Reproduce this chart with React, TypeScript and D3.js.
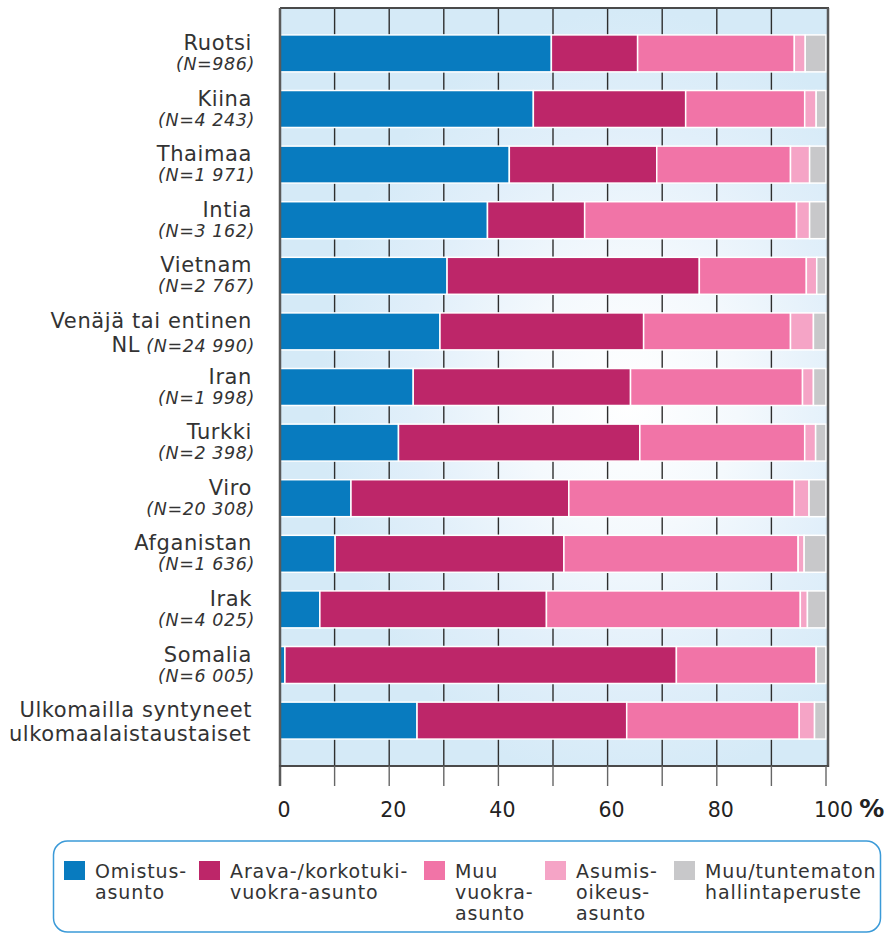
import React from 'react';
import * as d3 from 'd3';

// maat ja otoskoot
const countries = ['Ruotsi', 'Kiina', 'Thaimaa', 'Intia', 'Vietnam', 'Venäjä', 'Iran', 'Turkki', 'Viro', 'Afganistan', 'Irak', 'Somalia', 'Ulkomailla'];
const nameLines = [
  ['Ruotsi'], ['Kiina'], ['Thaimaa'], ['Intia'], ['Vietnam'], ['Venäjä tai entinen', 'NL'], ['Iran'],
  ['Turkki'], ['Viro'], ['Afganistan'], ['Irak'], ['Somalia'], ['Ulkomailla syntyneet', 'ulkomaalaistaustaiset'],
];
const nLabels = ['(N=986)', '(N=4 243)', '(N=1 971)', '(N=3 162)', '(N=2 767)', '(N=24 990)', '(N=1 998)',
  '(N=2 398)', '(N=20 308)', '(N=1 636)', '(N=4 025)', '(N=6 005)', ''];

// osuudet, %
const omistus = [49.7, 46.4, 42.0, 38.0, 30.6, 29.3, 24.4, 21.7, 13.0, 10.1, 7.3, 0.9, 25.1];
const arava = [15.8, 27.9, 27.0, 17.8, 46.2, 37.3, 39.8, 44.2, 39.9, 41.9, 41.5, 71.7, 38.4];
const muuVuokra = [28.7, 21.8, 24.5, 38.8, 19.6, 26.9, 31.5, 30.2, 41.3, 42.9, 46.5, 25.6, 31.6];
const asumisoikeus = [2.0, 2.1, 3.5, 2.4, 1.9, 4.2, 2.0, 2.0, 2.7, 1.1, 1.3, 0.0, 2.8];
const muuTuntematon = [3.8, 1.8, 3.0, 3.0, 1.7, 2.3, 2.3, 1.9, 3.1, 4.0, 3.4, 1.8, 2.1];

const keys = ['omistus', 'arava', 'muuVuokra', 'asumisoikeus', 'muu'];
const colors = ['#087bbf', '#bd2669', '#f174a7', '#f5a4c6', '#c8c8ca'];
const legendLines = [
  ['Omistus-', 'asunto'],
  ['Arava-/korkotuki-', 'vuokra-asunto'],
  ['Muu', 'vuokra-', 'asunto'],
  ['Asumis-', 'oikeus-', 'asunto'],
  ['Muu/tuntematon', 'hallintaperuste'],
];
const tickValues = [0, 20, 40, 60, 80, 100];

const FONT = '"DejaVu Sans", Verdana, sans-serif';

export default function App() {
  const x = d3.scaleLinear().domain([0, 100]).range([280, 826]);
  const y = d3.scaleBand().domain(countries).range([8, 766]).paddingInner(0.335).paddingOuter(0.484);

  const rows = countries.map((c, i) => ({
    country: c,
    omistus: omistus[i],
    arava: arava[i],
    muuVuokra: muuVuokra[i],
    asumisoikeus: asumisoikeus[i],
    muu: muuTuntematon[i],
  }));
  const series = d3.stack().keys(keys)(rows as any);

  const legendX = [64, 199, 424, 545, 674];

  return (
    <svg width={889} height={934} style={{ position: 'absolute', left: 0, top: 0 }} fontFamily={FONT}>
      <defs>
        <radialGradient id="bg" gradientUnits="userSpaceOnUse" cx={0} cy={0} r={1}
          gradientTransform="translate(630,400) scale(310,390)">
          <stop offset="0" stopColor="#ffffff" />
          <stop offset="0.35" stopColor="#f4f9fd" />
          <stop offset="0.7" stopColor="#e1effa" />
          <stop offset="1" stopColor="#d5eaf7" />
        </radialGradient>
      </defs>

      <rect x={280} y={8} width={548} height={758} fill="url(#bg)" />

      {d3.range(10, 100, 10).map(v => (
        <line key={v} x1={x(v)} x2={x(v)} y1={8} y2={766} stroke="#2e2e2e" strokeWidth={1.4} />
      ))}

      {series.map((s, si) => (
        <g key={keys[si]} fill={colors[si]}>
          {s.map((d, i) => (d[1] - d[0] > 0 ?
            <rect key={i} x={x(d[0])} y={y(countries[i])} width={x(d[1]) - x(d[0])} height={y.bandwidth()}
              stroke="#ffffff" strokeWidth={1.5} /> : null))}
        </g>
      ))}

      {/* kehys */}
      <line x1={280} x2={829} y1={8} y2={8} stroke="#4a4a4a" strokeWidth={2} />
      <line x1={828} x2={828} y1={8} y2={767} stroke="#5a5a5a" strokeWidth={2.5} />
      <line x1={280} x2={280} y1={8} y2={786} stroke="#5a5a5a" strokeWidth={2.5} />
      <line x1={279} x2={829} y1={766} y2={766} stroke="#4a4a4a" strokeWidth={2} />

      {d3.range(10, 101, 10).map(v => (
        <line key={v} x1={x(v)} x2={x(v)} y1={766} y2={786} stroke="#666" strokeWidth={1.4} />
      ))}
      {tickValues.map(v => (
        v === 100 ? (
          <text key={v} x={x(v) - 12} y={817} fontSize={20.5} fill="#222">
            100<tspan dx={6} fontSize={25} fontWeight="bold">%</tspan>
          </text>
        ) : (
          <text key={v} x={x(v) + 4} y={817} fontSize={20.5} fill="#222" textAnchor="middle">{v}</text>
        )
      ))}

      {countries.map((c, i) => {
        const top = y(c) as number;
        const lines = nameLines[i];
        return (
          <g key={c} fill="#333" letterSpacing={0.6}>
            <text x={252} y={top + 15} fontSize={21} textAnchor="end">{lines[0]}</text>
            {lines.length > 1 ? (
              <text x={nLabels[i] ? 255 : 251} y={top + 39} fontSize={21} textAnchor="end">
                {lines[1]}
                {nLabels[i] ? <tspan fontSize={17.5} fontStyle="italic"> {nLabels[i]}</tspan> : null}
              </text>
            ) : (
              <text x={255} y={top + 35} fontSize={17.5} fontStyle="italic" textAnchor="end">{nLabels[i]}</text>
            )}
          </g>
        );
      })}

      {/* selite */}
      <rect x={53.5} y={841} width={827} height={91} rx={14} fill="#fff" stroke="#3b9ad8" strokeWidth={1.5} />
      {legendLines.map((lines, i) => (
        <g key={i}>
          <rect x={legendX[i]} y={861} width={21} height={19} fill={colors[i]} />
          <text x={legendX[i] + 31} y={878} fontSize={19} letterSpacing={0.9} fill="#333">
            {lines.map((l, j) => (
              <tspan key={j} x={legendX[i] + 31} y={878 + j * 21}>{l}</tspan>
            ))}
          </text>
        </g>
      ))}
    </svg>
  );
}
